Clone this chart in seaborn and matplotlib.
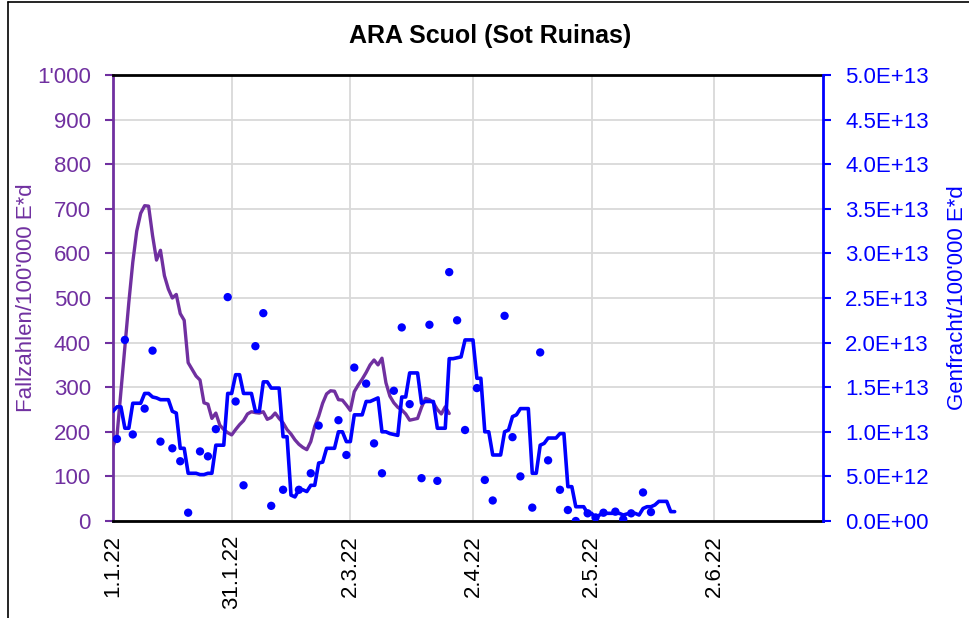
import numpy as np
import pandas as pd
import matplotlib
matplotlib.use("Agg")
import matplotlib.pyplot as plt
import seaborn as sns
from matplotlib.lines import Line2D

sns.set_style("white")
plt.rcParams['font.family'] = ['Liberation Sans', 'DejaVu Sans']

# Fallzahlen/100'000 E*d (7-Tage-Mittel), täglich ab 1.1.22
fall_start = "2022-01-01"
fallzahlen = [167, 190, 290, 390, 490, 580, 650, 690, 707, 706,
              640, 585, 607, 550, 520, 500, 508, 465, 450, 355,
              340, 325, 316, 265, 262, 230, 242, 215, 205, 198,
              193, 205, 216, 225, 240, 245, 243, 242, 245, 228,
              232, 242, 230, 220, 205, 195, 182, 172, 165, 160,
              178, 212, 235, 264, 285, 292, 291, 272, 271, 260,
              248, 290, 305, 318, 333, 350, 361, 350, 365, 310,
              280, 265, 255, 249, 240, 226, 228, 230, 255, 275,
              272, 265, 250, 240, 256, 241]

# Genfracht/100'000 E*d (gleitendes Mittel), in 1E+13
fracht_start = "2022-01-01"
fracht_mittel = [1.23, 1.28, 1.28, 1.04, 1.04, 1.32, 1.32, 1.32, 1.43, 1.43,
                 1.39, 1.38, 1.36, 1.36, 1.36, 1.23, 1.21, 0.815, 0.815, 0.535,
                 0.535, 0.535, 0.52, 0.52, 0.535, 0.535, 0.85, 0.85, 0.85, 1.43,
                 1.43, 1.64, 1.64, 1.43, 1.43, 1.43, 1.23, 1.23, 1.56, 1.56,
                 1.49, 1.49, 1.49, 0.945, 0.945, 0.29, 0.27, 0.35, 0.35, 0.33,
                 0.40, 0.40, 0.65, 0.66, 0.815, 0.815, 0.815, 1.00, 1.00, 0.89,
                 0.89, 1.19, 1.19, 1.19, 1.34, 1.34, 1.36, 1.38, 1.00, 1.00,
                 0.98, 0.97, 0.96, 1.39, 1.39, 1.66, 1.66, 1.66, 1.32, 1.34,
                 1.34, 1.34, 1.04, 1.04, 1.04, 1.82, 1.82, 1.83, 1.84, 2.03,
                 2.03, 2.03, 1.60, 1.60, 1.00, 1.00, 0.74, 0.74, 0.74, 1.00,
                 1.02, 1.17, 1.19, 1.26, 1.26, 1.26, 0.535, 0.535, 0.85, 0.87,
                 0.93, 0.93, 0.93, 0.98, 0.98, 0.385, 0.385, 0.16, 0.16, 0.16,
                 0.086, 0.086, 0.03, 0.067, 0.086, 0.086, 0.086, 0.086, 0.086, 0.067,
                 0.08, 0.086, 0.086, 0.067, 0.14, 0.16, 0.16, 0.18, 0.22, 0.22,
                 0.22, 0.105, 0.105]

# Einzelmessungen Genfracht, in 1E+13
proben_datum = ["2022-01-02", "2022-01-04", "2022-01-06", "2022-01-09", "2022-01-11",
                "2022-01-13", "2022-01-16", "2022-01-18", "2022-01-20", "2022-01-23",
                "2022-01-25", "2022-01-27", "2022-01-30", "2022-02-01", "2022-02-03",
                "2022-02-06", "2022-02-08", "2022-02-10", "2022-02-13", "2022-02-17",
                "2022-02-20", "2022-02-22", "2022-02-27", "2022-03-01", "2022-03-03",
                "2022-03-06", "2022-03-08", "2022-03-10", "2022-03-13", "2022-03-15",
                "2022-03-17", "2022-03-20", "2022-03-22", "2022-03-24", "2022-03-27",
                "2022-03-29", "2022-03-31", "2022-04-03", "2022-04-05", "2022-04-07",
                "2022-04-10", "2022-04-12", "2022-04-14", "2022-04-17", "2022-04-19",
                "2022-04-21", "2022-04-24", "2022-04-26", "2022-04-28", "2022-05-01",
                "2022-05-03", "2022-05-05", "2022-05-08", "2022-05-10", "2022-05-12",
                "2022-05-15", "2022-05-17"]
proben_wert = [0.92, 2.03, 0.97, 1.26, 1.91, 0.89, 0.815, 0.67, 0.093, 0.78,
               0.725, 1.03, 2.51, 1.34, 0.40, 1.96, 2.33, 0.17, 0.35, 0.35,
               0.535, 1.07, 1.13, 0.74, 1.72, 1.54, 0.87, 0.535, 1.46, 2.17,
               1.31, 0.48, 2.20, 0.45, 2.79, 2.25, 1.02, 1.49, 0.46, 0.23,
               2.30, 0.94, 0.50, 0.15, 1.89, 0.68, 0.35, 0.123, 0.0, 0.086,
               0.04, 0.093, 0.105, 0.019, 0.086, 0.32, 0.10]

tick_daten = ["2022-01-01", "2022-01-31", "2022-03-02", "2022-04-02", "2022-05-02", "2022-06-02"]
tick_texte = ["1.1.22", "31.1.22", "2.3.22", "2.4.22", "2.5.22", "2.6.22"]
links_ticks = list(range(0, 1001, 100))
rechts_ticks = [0.0, 0.5, 1.0, 1.5, 2.0, 2.5, 3.0, 3.5, 4.0, 4.5, 5.0]
rechts_texte = ["0.0E+00", "5.0E+12", "1.0E+13", "1.5E+13", "2.0E+13", "2.5E+13",
                "3.0E+13", "3.5E+13", "4.0E+13", "4.5E+13", "5.0E+13"]

LILA = "#7030A0"
BLAU = "#0000FF"

df_fall = pd.DataFrame({"datum": pd.date_range(fall_start, periods=len(fallzahlen), freq="D"),
                        "wert": fallzahlen})
df_fracht = pd.DataFrame({"datum": pd.date_range(fracht_start, periods=len(fracht_mittel), freq="D"),
                          "wert": np.array(fracht_mittel) * 1e13})
df_proben = pd.DataFrame({"datum": pd.to_datetime(proben_datum),
                          "wert": np.array(proben_wert) * 1e13})

fig = plt.figure(figsize=(9.69, 6.18), dpi=100)
ax = fig.add_axes([113 / 969, 97 / 618, 710 / 969, 446 / 618])
ax2 = ax.twinx()

sns.lineplot(data=df_fall, x="datum", y="wert", ax=ax, color=LILA, linewidth=2.4, zorder=3)
sns.lineplot(data=df_fracht, x="datum", y="wert", ax=ax2, color=BLAU, linewidth=2.6, zorder=3)
sns.scatterplot(data=df_proben, x="datum", y="wert", ax=ax2, color=BLAU, s=36,
                edgecolor="none", zorder=4)

ax.set_xlim(pd.Timestamp("2022-01-01"), pd.Timestamp("2022-06-29 12:00"))
ax.set_ylim(0, 1000)
ax2.set_ylim(0, 5e13)

ax.set_xticks(pd.to_datetime(tick_daten))
ax.set_xticklabels(tick_texte, rotation=90, fontsize=16, color="black")
ax.set_yticks(links_ticks)
ax.set_yticklabels(["1'000" if v == 1000 else str(v) for v in links_ticks], fontsize=16, color=LILA)
ax2.set_yticks(np.array(rechts_ticks) * 1e13)
ax2.set_yticklabels(rechts_texte, fontsize=16, color=BLAU)

ax.tick_params(axis="x", length=0, pad=10)
ax.tick_params(axis="y", length=6, width=1.5, color=LILA, pad=10, direction="out", left=True)
ax2.tick_params(axis="y", length=6, width=1.5, color=BLAU, pad=10, direction="out", right=True)

ax.grid(True, color="#D9D9D9", linewidth=1.3)
ax.set_axisbelow(True)

for s in ["top", "bottom"]:
    ax.spines[s].set_color("black")
    ax.spines[s].set_linewidth(2)
ax.spines["left"].set_color(LILA)
ax.spines["left"].set_linewidth(2)
ax.spines["right"].set_visible(False)
for s in ["top", "bottom", "left"]:
    ax2.spines[s].set_visible(False)
ax2.spines["right"].set_color(BLAU)
ax2.spines["right"].set_linewidth(2)
ax2.spines["right"].set_visible(True)

ax.set_xlabel("")
ax.set_ylabel("Fallzahlen/100'000 E*d", fontsize=16, color=LILA)
ax.yaxis.label.set_va("center")
ax.yaxis.set_label_coords(-0.122, 0.5)
ax2.set_ylabel("Genfracht/100'000 E*d", fontsize=16, color=BLAU, rotation=90)
ax2.yaxis.label.set_va("center")
ax2.yaxis.set_label_coords(1.189, 0.5)

fig.text(490 / 969, 1 - 36 / 618, "ARA Scuol (Sot Ruinas)", fontsize=18, fontweight="bold",
         color="black", ha="center", va="center")

# Rahmen des Diagrammbereichs
fig.add_artist(Line2D([8 / 969, 8 / 969], [0, 1 - 1.5 / 618], transform=fig.transFigure,
                      color="black", linewidth=1.2))
fig.add_artist(Line2D([8 / 969, 1], [1 - 1.5 / 618, 1 - 1.5 / 618], transform=fig.transFigure,
                      color="black", linewidth=1.2))

fig.savefig("out.png", dpi=100)
